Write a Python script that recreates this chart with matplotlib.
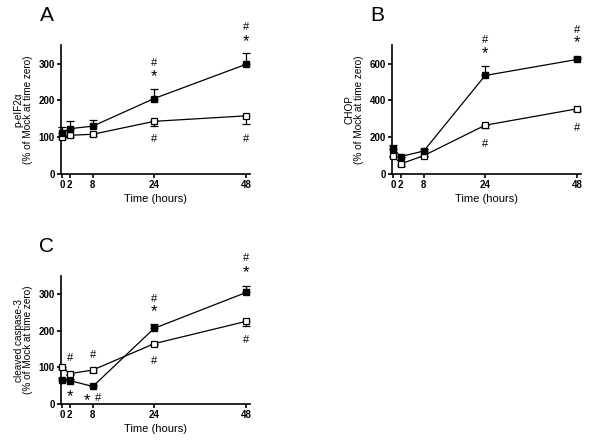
import matplotlib.pyplot as plt

plt.rcParams['font.family'] = ['Liberation Sans', 'DejaVu Sans']
plt.rcParams['font.weight'] = 'bold'

hours = [0, 2, 8, 24, 48]
x_ticks = [0, 2, 8, 24, 48]

# panel A: p-eIF2a
a_filled = [110, 123, 130, 205, 298]
a_filled_err = [18, 21, 16, 26, 30]
a_open = [100, 105, 108, 143, 158]
a_open_err = [5, 5, 5, 12, 22]
a_marks = [(24, 303, '#'), (24, 275, '*'), (48, 402, '#'), (48, 370, '*'),
           (24, 97, '#'), (48, 97, '#')]

# panel B: CHOP
b_filled = [138, 95, 125, 535, 622]
b_filled_err = [20, 10, 10, 50, 12]
b_open = [100, 55, 100, 265, 354]
b_open_err = [10, 10, 10, 15, 10]
b_marks = [(24, 731, '#'), (24, 673, '*'), (48, 789, '#'), (48, 731, '*'),
           (24, 167, '#'), (48, 253, '#')]

# panel C: cleaved caspase-3
c_filled = [65, 64, 48, 207, 305]
c_filled_err = [5, 5, 5, 12, 18]
c_open = [100, 83, 93, 165, 226]
c_open_err = [5, 5, 5, 5, 12]
c_marks = [(2, 129, '#'), (2, 29, '*'), (8, 138, '#'), (6.6, 19, '*'), (9.4, 19, '#'),
           (24, 291, '#'), (24, 263, '*'), (48, 402, '#'), (48, 370, '*'),
           (24, 120, '#'), (48, 179, '#')]

panels = [
    ('A', [0.1017, 0.6072, 0.315, 0.291], 'p-eIF2\u03b1', 350, [0, 100, 200, 300],
     a_filled, a_filled_err, a_open, a_open_err, a_marks),
    ('B', [0.6533, 0.6072, 0.315, 0.291], 'CHOP', 700, [0, 200, 400, 600],
     b_filled, b_filled_err, b_open, b_open_err, b_marks),
    ('C', [0.1017, 0.0880, 0.315, 0.289], 'cleaved caspase-3', 350, [0, 100, 200, 300],
     c_filled, c_filled_err, c_open, c_open_err, c_marks),
]

fig = plt.figure(figsize=(6, 4.43), dpi=100)

for letter, rect, name, ymax, yt, fil, fil_e, opn, opn_e, marks in panels:
    ax = fig.add_axes(rect)
    ax.errorbar(hours, opn, yerr=[opn_e, [0] * 5], color='black', lw=0.9,
                marker='s', ms=4.6, mfc='white', mec='black', mew=0.9,
                capsize=3, elinewidth=0.9, capthick=0.9, clip_on=False, zorder=3)
    ax.errorbar(hours, fil, yerr=[[0] * 5, fil_e], color='black', lw=0.9,
                marker='s', ms=4.8, mfc='black', mec='black',
                capsize=3, elinewidth=0.9, capthick=0.9, clip_on=False, zorder=4)
    for x, y, t in marks:
        if t == '*':
            fs, k = 12, 0.48
        else:
            fs, k = 8, 0.36
        ax.annotate(t, xy=(x, y), xytext=(0, -k * fs), textcoords='offset points',
                    ha='center', va='baseline', fontsize=fs, fontweight='normal',
                    annotation_clip=False)
    ax.set_xlim(-0.3, 49)
    ax.set_ylim(0, ymax)
    ax.set_xticks(x_ticks)
    ax.set_yticks(yt)
    ax.spines['top'].set_visible(False)
    ax.spines['right'].set_visible(False)
    ax.spines['left'].set_linewidth(1.2)
    ax.spines['bottom'].set_linewidth(1.2)
    ax.tick_params(labelsize=7, width=1.2, length=3, pad=1.5)
    ax.set_xlabel('Time (hours)', fontsize=8, labelpad=3)
    ax.set_ylabel(name + '\n(% of Mock at time zero)', fontsize=7.2, labelpad=4,
                  linespacing=0.9)
    fig.text(rect[0] - 0.024, rect[1] + rect[3] + 0.066, letter, fontsize=15,
             fontweight='normal', va='center', ha='center')

plt.savefig('out.png', dpi=100)
